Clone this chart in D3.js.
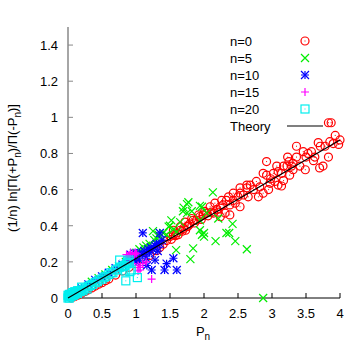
<!DOCTYPE html>
<html>
<head>
<meta charset="utf-8">
<script src="https://cdn.jsdelivr.net/npm/d3@7"></script>
<style>
  body { margin: 0; background: #fff; }
  text { font-family: "Liberation Sans", Arial, sans-serif; font-size: 13px; fill: #000; }
</style>
</head>
<body>
<div id="chart"></div>
<script>
// ---- data ----
var n0 = [
  [0.05,0.0],[0.1,0.008],[0.15,0.016],[0.2,0.026],[0.25,0.036],[0.3,0.045],[0.35,0.056],[0.4,0.066],
  [0.45,0.076],[0.5,0.085],[0.55,0.096],[0.6,0.105],[0.7,0.127],[0.8,0.15],[0.9,0.17],[1.0,0.19],
  [1.1,0.212],[1.2,0.235],[1.3,0.262],[1.35,0.279],[1.4,0.298],[1.45,0.318],[1.5,0.34],[1.52,0.325],
  [1.55,0.35],[1.55,0.375],[1.58,0.345],[1.6,0.36],[1.62,0.35],[1.65,0.375],[1.65,0.395],[1.68,0.37],
  [1.7,0.385],[1.72,0.42],[1.73,0.375],[1.75,0.395],[1.77,0.4],[1.79,0.41],[1.82,0.44],[1.84,0.43],
  [1.86,0.415],[1.89,0.43],[1.92,0.46],[1.94,0.45],[1.96,0.435],[1.99,0.46],[2.01,0.48],[2.04,0.47],
  [2.06,0.455],[2.09,0.505],[2.11,0.475],[2.14,0.47],[2.16,0.525],[2.19,0.49],[2.21,0.475],[2.24,0.505],
  [2.24,0.45],[2.26,0.54],[2.28,0.515],[2.31,0.47],[2.33,0.54],[2.36,0.56],[2.38,0.515],[2.38,0.46],
  [2.43,0.54],[2.43,0.58],[2.46,0.525],[2.5,0.56],[2.53,0.58],[2.53,0.505],[2.53,0.61],[2.58,0.57],
  [2.63,0.61],[2.63,0.625],[2.65,0.56],[2.68,0.625],[2.73,0.6],[2.77,0.645],[2.8,0.56],[2.82,0.615],
  [2.87,0.58],[2.87,0.69],[2.92,0.68],[2.92,0.755],[2.95,0.6],[2.97,0.635],[2.98,0.66],[3.02,0.69],
  [3.04,0.645],[3.07,0.73],[3.09,0.7],[3.09,0.625],[3.14,0.62],[3.14,0.69],[3.17,0.65],[3.17,0.73],
  [3.22,0.73],[3.23,0.78],[3.25,0.755],[3.26,0.68],[3.29,0.73],[3.31,0.745],[3.31,0.71],[3.36,0.78],
  [3.36,0.84],[3.41,0.73],[3.46,0.81],[3.49,0.71],[3.5,0.78],[3.53,0.8],[3.58,0.81],[3.61,0.76],
  [3.63,0.78],[3.68,0.86],[3.7,0.72],[3.71,0.84],[3.75,0.73],[3.78,0.84],[3.83,0.78],[3.85,0.865],
  [3.9,0.855],[3.93,0.9],[3.98,0.85],[4.0,0.875],[3.83,0.97],[3.87,0.97]
];
var n5 = [
  [0.35,0.09],[0.45,0.11],[0.55,0.13],[0.65,0.155],[0.75,0.175],[0.85,0.2],[0.95,0.225],[1.0,0.25],
  [1.05,0.27],[1.11,0.28],[1.15,0.29],[1.2,0.3],[1.25,0.37],[1.27,0.32],[1.3,0.33],[1.33,0.35],
  [1.35,0.34],[1.4,0.36],[1.45,0.35],[1.48,0.395],[1.5,0.4],[1.52,0.43],[1.55,0.38],[1.59,0.265],
  [1.6,0.367],[1.65,0.42],[1.69,0.48],[1.7,0.5],[1.75,0.52],[1.75,0.47],[1.77,0.53],[1.8,0.215],
  [1.82,0.48],[1.84,0.275],[1.94,0.51],[1.94,0.43],[1.94,0.375],[1.97,0.505],[1.97,0.35],[2.0,0.34],
  [2.0,0.36],[2.04,0.47],[2.13,0.585],[2.17,0.315],[2.21,0.44],[2.33,0.36],[2.37,0.36],[2.42,0.41],
  [2.46,0.315],[2.63,0.27],[2.87,0.0]
];
var n10 = [
  [0.2,0.055],[0.3,0.075],[0.4,0.1],[0.5,0.12],[0.6,0.14],[0.7,0.165],[0.8,0.185],[0.9,0.21],[0.92,0.24],
  [0.95,0.22],[0.97,0.25],[1.0,0.23],[1.0,0.2],[1.05,0.25],[1.05,0.21],[1.1,0.24],[1.1,0.36],
  [1.12,0.26],[1.15,0.22],[1.16,0.18],[1.18,0.27],[1.2,0.25],[1.22,0.28],[1.23,0.155],[1.25,0.27],
  [1.28,0.29],[1.28,0.21],[1.3,0.3],[1.32,0.26],[1.35,0.3],[1.35,0.36],[1.38,0.32],[1.42,0.155],
  [1.45,0.19],[1.55,0.22],[1.6,0.155]
];
var n15 = [
  [0.45,0.1],[0.6,0.135],[0.7,0.16],[0.8,0.19],[0.85,0.2],[0.86,0.24],[0.88,0.23],[0.9,0.24],
  [0.91,0.22],[0.92,0.25],[0.95,0.245],[0.95,0.19],[0.98,0.24],[0.99,0.25],[1.01,0.245],[1.03,0.18],
  [1.03,0.15],[1.06,0.155],[1.06,0.17],[1.1,0.19],[1.15,0.2],[1.23,0.105]
];
var n20 = [
  [0.0,0.0],[0.0,0.015],[0.01,0.01],[0.02,0.0],[0.02,0.02],[0.03,0.01],[0.04,0.02],[0.05,0.01],[0.06,0.02],
  [0.07,0.03],[0.08,0.015],[0.09,0.025],[0.1,0.02],[0.1,0.035],[0.12,0.03],[0.14,0.025],[0.14,0.04],
  [0.16,0.04],[0.18,0.035],[0.2,0.045],[0.2,0.06],[0.22,0.04],[0.25,0.055],[0.28,0.05],[0.3,0.065],
  [0.33,0.07],[0.36,0.075],[0.4,0.085],[0.43,0.09],[0.46,0.1],[0.5,0.105],[0.53,0.115],[0.56,0.12],
  [0.6,0.13],[0.63,0.14],[0.66,0.14],[0.7,0.155],[0.73,0.16],[0.76,0.17],[0.76,0.21],[0.8,0.175],
  [0.83,0.18],[0.84,0.15],[0.85,0.095],[0.86,0.19],[0.88,0.2],[0.9,0.195],[0.9,0.21],[0.91,0.146],
  [0.93,0.155],[1.02,0.113]
];
var theory = [[0,0],[4,0.875]];

var xTicks = [0, 0.5, 1, 1.5, 2, 2.5, 3, 3.5, 4];
var yTicks = [0, 0.2, 0.4, 0.6, 0.8, 1, 1.2, 1.4];
var legendLabels = ["n=0", "n=5", "n=10", "n=15", "n=20", "Theory"];

// ---- layout ----
var W = 354, H = 354;
var x = d3.scaleLinear().domain([0, 4]).range([68, 340]);
var y = d3.scaleLinear().domain([0, 1.5]).range([298, 27]);

var svg = d3.select("#chart")
            .append("svg")
            .attr("width", W)
            .attr("height", H);

// axes: only left and bottom, ticks pointing inward
var axisY = svg.append("g");
axisY.append("line")
     .attr("x1", x(0)).attr("x2", x(0))
     .attr("y1", y(0)).attr("y2", y(1.5))
     .attr("stroke", "#888").attr("stroke-width", 1.5);
yTicks.forEach(function (t) {
  axisY.append("line")
       .attr("x1", x(0)).attr("x2", x(0) + 5)
       .attr("y1", y(t)).attr("y2", y(t))
       .attr("stroke", "#888");
  axisY.append("text")
       .attr("x", x(0) - 10)
       .attr("y", y(t) + 5)
       .attr("text-anchor", "end")
       .text(d3.format("~g")(t));
});

var axisX = svg.append("g");
axisX.append("line")
     .attr("x1", x(0)).attr("x2", x(4))
     .attr("y1", y(0)).attr("y2", y(0))
     .attr("stroke", "#000");
xTicks.forEach(function (t) {
  axisX.append("line")
       .attr("x1", x(t)).attr("x2", x(t))
       .attr("y1", y(0)).attr("y2", y(0) - 5)
       .attr("stroke", "#000");
  axisX.append("text")
       .attr("x", x(t))
       .attr("y", y(0) + 20)
       .attr("text-anchor", "middle")
       .text(d3.format("~g")(t));
});

// axis titles
var xt = svg.append("text").attr("x", 203).attr("y", 336).attr("text-anchor", "middle");
xt.append("tspan").text("P");
xt.append("tspan").attr("dy", 4).style("font-size", "10px").text("n");

var yt = svg.append("text")
            .attr("transform", "translate(17,168) rotate(-90)")
            .attr("text-anchor", "middle");
yt.append("tspan").text("(1/n) ln[\u03A0(+P");
yt.append("tspan").attr("dy", 4).style("font-size", "10px").text("n");
yt.append("tspan").attr("dy", -4).text(")/\u03A0(-P");
yt.append("tspan").attr("dy", 4).style("font-size", "10px").text("n");
yt.append("tspan").attr("dy", -4).text(")]");

// ---- point symbols (gnuplot style) ----
function circle(g, cx, cy, col) {
  g.append("circle").attr("cx", cx).attr("cy", cy).attr("r", 4)
   .attr("fill", "none").attr("stroke", col).attr("stroke-width", 1.2);
  g.append("rect").attr("x", cx - 0.5).attr("y", cy - 0.5).attr("width", 1).attr("height", 1).attr("fill", col);
}
function cross(g, cx, cy, col) {
  g.append("path").attr("d", "M" + (cx - 4) + "," + (cy - 4) + "L" + (cx + 4) + "," + (cy + 4) +
                             "M" + (cx - 4) + "," + (cy + 4) + "L" + (cx + 4) + "," + (cy - 4))
   .attr("stroke", col).attr("stroke-width", 1.2);
}
function plus(g, cx, cy, col) {
  g.append("path").attr("d", "M" + (cx - 4) + "," + cy + "L" + (cx + 4) + "," + cy +
                             "M" + cx + "," + (cy - 4) + "L" + cx + "," + (cy + 4))
   .attr("stroke", col).attr("stroke-width", 1.2);
}
function star(g, cx, cy, col) {
  cross(g, cx, cy, col);
  plus(g, cx, cy, col);
}
function square(g, cx, cy, col) {
  g.append("rect").attr("x", cx - 4).attr("y", cy - 4).attr("width", 8).attr("height", 8)
   .attr("fill", "none").attr("stroke", col).attr("stroke-width", 1.2);
  g.append("rect").attr("x", cx - 0.5).attr("y", cy - 0.5).attr("width", 1).attr("height", 1).attr("fill", col);
}

var series = [
  { data: n0,  color: "#ff0000", sym: circle },
  { data: n5,  color: "#00ee00", sym: cross },
  { data: n10, color: "#0000ff", sym: star },
  { data: n15, color: "#ff00ff", sym: plus },
  { data: n20, color: "#00eeee", sym: square }
];

var plot = svg.append("g");
series.forEach(function (s) {
  var g = plot.append("g");
  s.data.forEach(function (d) {
    s.sym(g, x(d[0]), y(d[1]), s.color);
  });
});

plot.append("path")
    .datum(theory)
    .attr("d", d3.line().x(function (d) { return x(d[0]); }).y(function (d) { return y(d[1]); }))
    .attr("fill", "none")
    .attr("stroke", "#000")
    .attr("stroke-width", 1.2);

// ---- legend ----
var leg = svg.append("g");
legendLabels.forEach(function (lab, i) {
  var ly = 41 + i * 17;
  leg.append("text").attr("x", 230).attr("y", ly + 5).text(lab);
  if (i < series.length) {
    series[i].sym(leg, 305, ly, series[i].color);
  } else {
    leg.append("line").attr("x1", 287).attr("x2", 323)
       .attr("y1", ly).attr("y2", ly)
       .attr("stroke", "#000").attr("stroke-width", 1.2);
  }
});
</script>
</body>
</html>
